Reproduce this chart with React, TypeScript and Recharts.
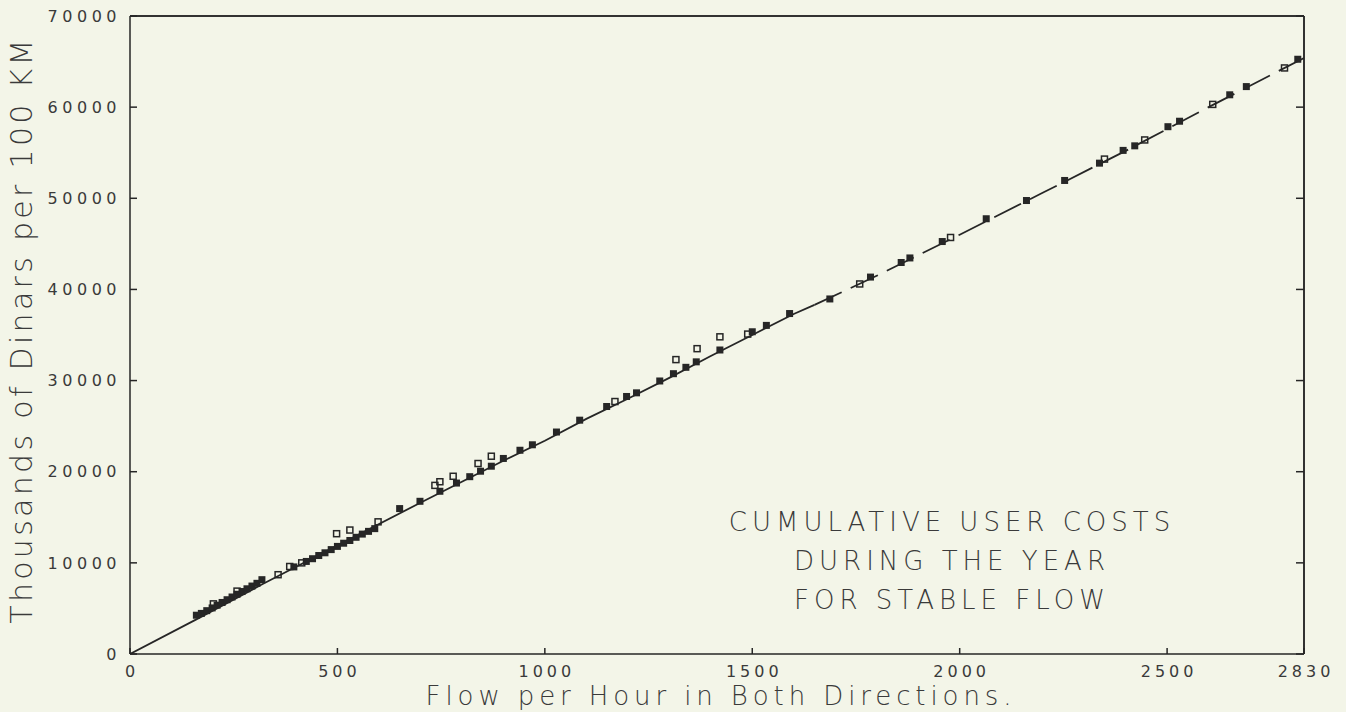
import React from 'react';
import { ComposedChart, Line, Scatter, XAxis, YAxis, ReferenceLine, Customized } from 'recharts';

const xTicks = [0, 500, 1000, 1500, 2000, 2500, 2830];
const xTopTicks = [0, 500, 1000, 1500, 2000, 2500];
const yTicks = [0, 10000, 20000, 30000, 40000, 50000, 60000, 70000];

const curveSolid = [
  { x: 0, y: 0 }, { x: 160, y: 3800 }, { x: 321, y: 7700 }, { x: 500, y: 11900 },
  { x: 700, y: 16600 }, { x: 900, y: 21200 }, { x: 1000, y: 23400 }, { x: 1100, y: 25800 },
  { x: 1200, y: 28000 }, { x: 1300, y: 30300 }, { x: 1400, y: 32700 }, { x: 1500, y: 35000 },
  { x: 1600, y: 37300 }, { x: 1650, y: 38300 },
];
const curveDashed = [
  { x: 1650, y: 38300 }, { x: 1800, y: 41500 }, { x: 2000, y: 46000 }, { x: 2200, y: 50600 },
  { x: 2400, y: 55200 }, { x: 2600, y: 60000 }, { x: 2830, y: 65400 },
];

const filledX = [160, 172, 185, 198, 210, 222, 234, 246, 258, 270, 282, 294, 306, 318,
  395, 425, 440, 455, 470, 485, 500, 515, 530, 545, 560, 575, 590,
  650, 699, 747, 787, 819, 845, 871, 900, 940, 970, 1028, 1084, 1149, 1197, 1221, 1277,
  1310, 1340, 1365, 1422, 1500, 1534, 1590, 1687, 1785, 1859, 1880, 1958, 2064, 2161,
  2253, 2337, 2394, 2422, 2502, 2530, 2651, 2691, 2815];
const filledY = [4200, 4400, 4700, 5000, 5300, 5600, 5900, 6200, 6500, 6800, 7100, 7400, 7700, 8100,
  9500, 10100, 10400, 10750, 11050, 11400, 11750, 12100, 12400, 12750, 13100, 13400, 13700,
  15900, 16700, 17800, 18700, 19400, 20000, 20550, 21400, 22300, 22900, 24300, 25600, 27100, 28200, 28600, 29900,
  30700, 31400, 32000, 33300, 35300, 36000, 37300, 38900, 41300, 42900, 43400, 45200, 47700, 49700,
  51900, 53800, 55200, 55700, 57800, 58400, 61300, 62200, 65200];

const openX = [201, 258, 357, 385, 414, 498, 530, 598, 735, 747, 779, 839, 871, 1169, 1316, 1367,
  1422, 1489, 1759, 1978, 2349, 2446, 2610, 2783];
const openY = [5500, 6900, 8700, 9600, 10000, 13200, 13600, 14500, 18500, 18900, 19500, 20900, 21700,
  27700, 32300, 33500, 34800, 35100, 40600, 45700, 54300, 56400, 60300, 64300];

const noteLines = ['CUMULATIVE USER COSTS', 'DURING THE YEAR', 'FOR STABLE FLOW'];
const xTitle = 'Flow per Hour in Both Directions.';
const yTitle = 'Thousands of Dinars per 100 KM';

const filledPoints = filledX.map((x, i) => ({ x, y: filledY[i] }));
const openPoints = openX.map((x, i) => ({ x, y: openY[i] }));

const INK = '#262626';
const TEXT = '#3a3a3a';
const FONT = '"DejaVu Sans", sans-serif';

const FilledSquare = (props: any) => {
  const { cx, cy } = props;
  if (cx == null || cy == null) return null;
  return <rect x={cx - 3.5} y={cy - 4} width={7} height={7} fill={INK} />;
};
const OpenSquare = (props: any) => {
  const { cx, cy } = props;
  if (cx == null || cy == null) return null;
  return <rect x={cx - 3} y={cy - 3} width={6} height={6} fill="none" stroke={INK} strokeWidth={1.5} />;
};

const tickTextStyle: React.CSSProperties = { fontSize: '16px', fontFamily: FONT, letterSpacing: '4px' };
const yTickTextStyle: React.CSSProperties = { fontSize: '16px', fontFamily: FONT, letterSpacing: '4.5px' };

const BottomTick = (props: any) => {
  const { x, y, payload } = props;
  return (
    <g>
      <line x1={x} y1={y} x2={x} y2={y - 6} stroke={INK} strokeWidth={1.5} />
      <text x={x + 2} y={y + 23} textAnchor="middle" fill={TEXT} style={tickTextStyle}>{payload.value}</text>
    </g>
  );
};
const LeftTick = (props: any) => {
  const { x, y, payload } = props;
  return (
    <g>
      <line x1={x} y1={y} x2={x + 7} y2={y} stroke={INK} strokeWidth={1.5} />
      <text x={x - 9} y={y} dy="0.36em" textAnchor="end" fill={TEXT} style={yTickTextStyle}>{payload.value}</text>
    </g>
  );
};
const TopTick = (props: any) => {
  const { x, y } = props;
  return <line x1={x} y1={y} x2={x} y2={y + 6} stroke={INK} strokeWidth={1.5} />;
};
const RightTick = (props: any) => {
  const { x, y } = props;
  return <line x1={x} y1={y} x2={x - 8} y2={y} stroke={INK} strokeWidth={1.5} />;
};

const Texts = () => (
  <g fontFamily={FONT} fill={TEXT} fontWeight={200}>
    {noteLines.map((t, i) => (
      <text key={t} x={952} y={531 + i * 39} textAnchor="middle" fontSize={26} letterSpacing={5}>{t}</text>
    ))}
    <text x={721} y={705} textAnchor="middle" fontSize={26} letterSpacing={4.9}>{xTitle}</text>
    <text x={32} y={330} textAnchor="middle" fontSize={30} letterSpacing={3.3}
      transform="rotate(-90, 32, 330)">{yTitle}</text>
  </g>
);

export default function App() {
  return (
    <div style={{ position: 'absolute', left: 0, top: 0, width: 1346, height: 712, background: '#f3f5e8' }}>
      <ComposedChart width={1346} height={712} margin={{ top: 15, right: 41, bottom: 28, left: 0 }}>
        <XAxis xAxisId="b" type="number" dataKey="x" domain={[0, 2830]} ticks={xTicks} allowDataOverflow
          stroke={INK} strokeWidth={1.5} tickSize={0} tickMargin={0} tickLine={false} height={30}
          tick={BottomTick} interval={0} />
        <XAxis xAxisId="t" orientation="top" type="number" domain={[0, 2830]} ticks={xTopTicks} allowDataOverflow
          stroke={INK} strokeWidth={1.5} tickSize={0} tickMargin={0} tickLine={false} tick={TopTick} height={1} interval={0} />
        <YAxis yAxisId="l" type="number" domain={[0, 70000]} ticks={yTicks} allowDataOverflow
          stroke={INK} strokeWidth={1.5} tickSize={0} tickMargin={0} tickLine={false} width={130}
          tick={LeftTick} interval={0} />
        <YAxis yAxisId="r" orientation="right" type="number" domain={[0, 70000]} ticks={yTicks} allowDataOverflow
          stroke={INK} strokeWidth={1.5} tickSize={0} tickMargin={0} tickLine={false} tick={RightTick} width={1} interval={0} />
        <ReferenceLine xAxisId="b" yAxisId="l" y={70000} stroke={INK} strokeWidth={1.5} />
        <ReferenceLine xAxisId="b" yAxisId="l" x={2830} stroke={INK} strokeWidth={1.5} />
        <Line xAxisId="b" yAxisId="l" data={curveSolid} dataKey="y" stroke={INK} strokeWidth={1.8}
          dot={false} isAnimationActive={false} />
        <Line xAxisId="b" yAxisId="l" data={curveDashed} dataKey="y" stroke={INK} strokeWidth={1.8}
          strokeDasharray="30 10" dot={false} isAnimationActive={false} />
        <Scatter xAxisId="b" yAxisId="l" data={filledPoints} dataKey="y" shape={FilledSquare} isAnimationActive={false} />
        <Scatter xAxisId="b" yAxisId="l" data={openPoints} dataKey="y" shape={OpenSquare} isAnimationActive={false} />
        <Customized component={Texts} />
      </ComposedChart>
    </div>
  );
}
